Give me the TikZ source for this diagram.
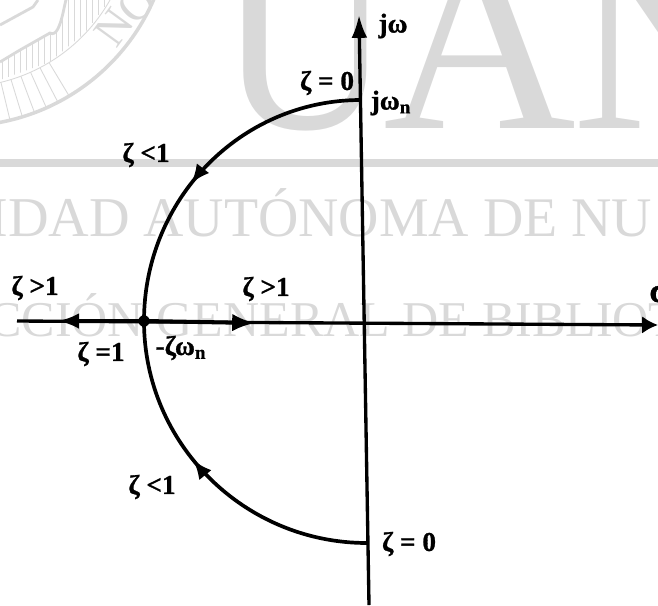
\documentclass[tikz,border=0pt]{standalone}
\usepackage{fontspec}
\setmainfont{Liberation Serif}
\newfontfamily\lblfont[BoldFeatures={FakeBold=1}]{Liberation Serif}
\usetikzlibrary{arrows.meta,decorations.markings}
\definecolor{wmgray}{HTML}{D9D9D9}
\tikzset{
  wmline/.style={draw=wmgray, line width=1.6pt},
  wmthin/.style={draw=wmgray, line width=0.5pt},
  wmtext/.style={text=wmgray, anchor=base west, inner sep=0pt},
  axisline/.style={line width=1.9pt},
  locus/.style={line width=2.1pt},
  lbl/.style={font=\lblfont\bfseries\fontsize{15.5}{16}\selectfont, inner sep=0pt},
  midtip/.style={decoration={markings, mark=at position 0.57 with {\arrow{Latex[length=11pt,width=9pt]}}}, postaction={decorate}}
}
\begin{document}
\begin{tikzpicture}[x=0.02cm, y=-0.02cm]
    \useasboundingbox (0,0) rectangle (658,605);
    \clip (0,0) rectangle (658,605);

    \node[wmtext, font=\fontsize{152}{152}\selectfont, xscale=0.9, transform shape] (wmU) at (218,128) {U};
    \node[wmtext, font=\fontsize{152}{152}\selectfont] (wmA) at (383,128) {A};
    \node[wmtext, font=\fontsize{152}{152}\selectfont] (wmN) at (572,128) {N};
    \node[wmtext, font=\fontsize{32}{34}\selectfont] (wmrowa) at (-11,236) {IDAD};
    \node[wmtext, font=\fontsize{31.8}{34}\selectfont] (wmrowb) at (143,236) {AUTÓNOMA DE NU};
    \node[wmtext, font=\fontsize{28.5}{30}\selectfont] (wmrowc) at (-12,336) {CCIÓN GENERAL DE BIBLIOT};
    \fill[wmgray] (0,159) rectangle (658,167);

    \draw[wmline, line width=2pt] ([shift={(-39,-84)}]10:210) arc[start angle=10, end angle=95, radius=210];
    \draw[wmthin] ([shift={(-39,-84)}]10:171) arc[start angle=10, end angle=95, radius=171];
    \draw[wmline] (0,62) -- (20,50) -- (50,33) to[out=-30, in=100] (68,0);
    \draw[wmline] (0,25) -- (33,7) -- (38,0);
    \begin{scope}
        \clip (0,62) -- (20,50) -- (50,33) to[out=-30, in=100] (68,0) -- (110,0) -- (85,33) -- (50,62) -- (0,80) -- cycle;
        \foreach \xpos in {2,8,...,110}
            \draw[wmthin] (\xpos,0) -- (\xpos,90);
    \end{scope}
    \foreach \ang in {59,62.5,...,80}
        \draw[wmthin] ([shift={(-39,-84)}]\ang:171) -- ([shift={(-39,-84)}]\ang:209);
    \node[text=wmgray, inner sep=0pt, rotate=54, font=\fontsize{26}{26}\selectfont] (wmsealN) at (114,27) {N};
    \node[text=wmgray, inner sep=0pt, rotate=45, font=\fontsize{26}{26}\selectfont] (wmsealO) at (137,4) {O};

    \coordinate (imtop) at (359,15);
    \coordinate (imbot) at (369,605);
    \coordinate (releft) at (17,321);
    \coordinate (reright) at (658,325);
    \coordinate (wntop) at (361,100);
    \coordinate (wnbot) at (367,543);
    \coordinate (lefttip) at (58,321);
    \coordinate (righttip) at (255,323);
    \node[circle, fill=black, inner sep=0pt, minimum size=6.5pt] (pole) at (144,321) {};

    \draw[axisline, -{Latex[length=13pt,width=9pt]}] (imbot) -- (imtop);
    \draw[axisline, -{Latex[length=9pt,width=10pt]}] (releft) -- (reright);
    \draw[axisline, line width=2.5pt, -{Latex[length=12pt,width=9pt]}] (pole.center) -- (lefttip);
    \draw[axisline, line width=2.3pt, -{Latex[length=13pt,width=10pt]}] (pole.center) -- (righttip);
    \draw[locus, midtip] (wntop) to[out=180, in=90] (pole.center);
    \draw[locus, midtip] (wnbot) to[out=180, in=-90] (pole.center);

    \node[lbl] (jw) at (393,26) {jω};
    \node[lbl] (jwn) at (391,103) {jω\textsubscript{n}};
    \node[lbl] (ztop) at (327,83) {ζ = 0};
    \node[lbl] (zlta) at (146,155) {ζ <1};
    \node[lbl] (zgta) at (35,288) {ζ >1};
    \node[lbl] (zgtb) at (266,289) {ζ >1};
    \node[lbl] (zeq) at (101,354) {ζ =1};
    \node[lbl] (zwn) at (181,348) {-ζω\textsubscript{n}};
    \node[lbl] (zltb) at (152,487) {ζ <1};
    \node[lbl] (zbot) at (409,544) {ζ = 0};
    \node[lbl, anchor=west, font=\lblfont\bfseries\fontsize{20}{20}\selectfont] (sig) at (649,293) {σ};
\end{tikzpicture}
\end{document}
